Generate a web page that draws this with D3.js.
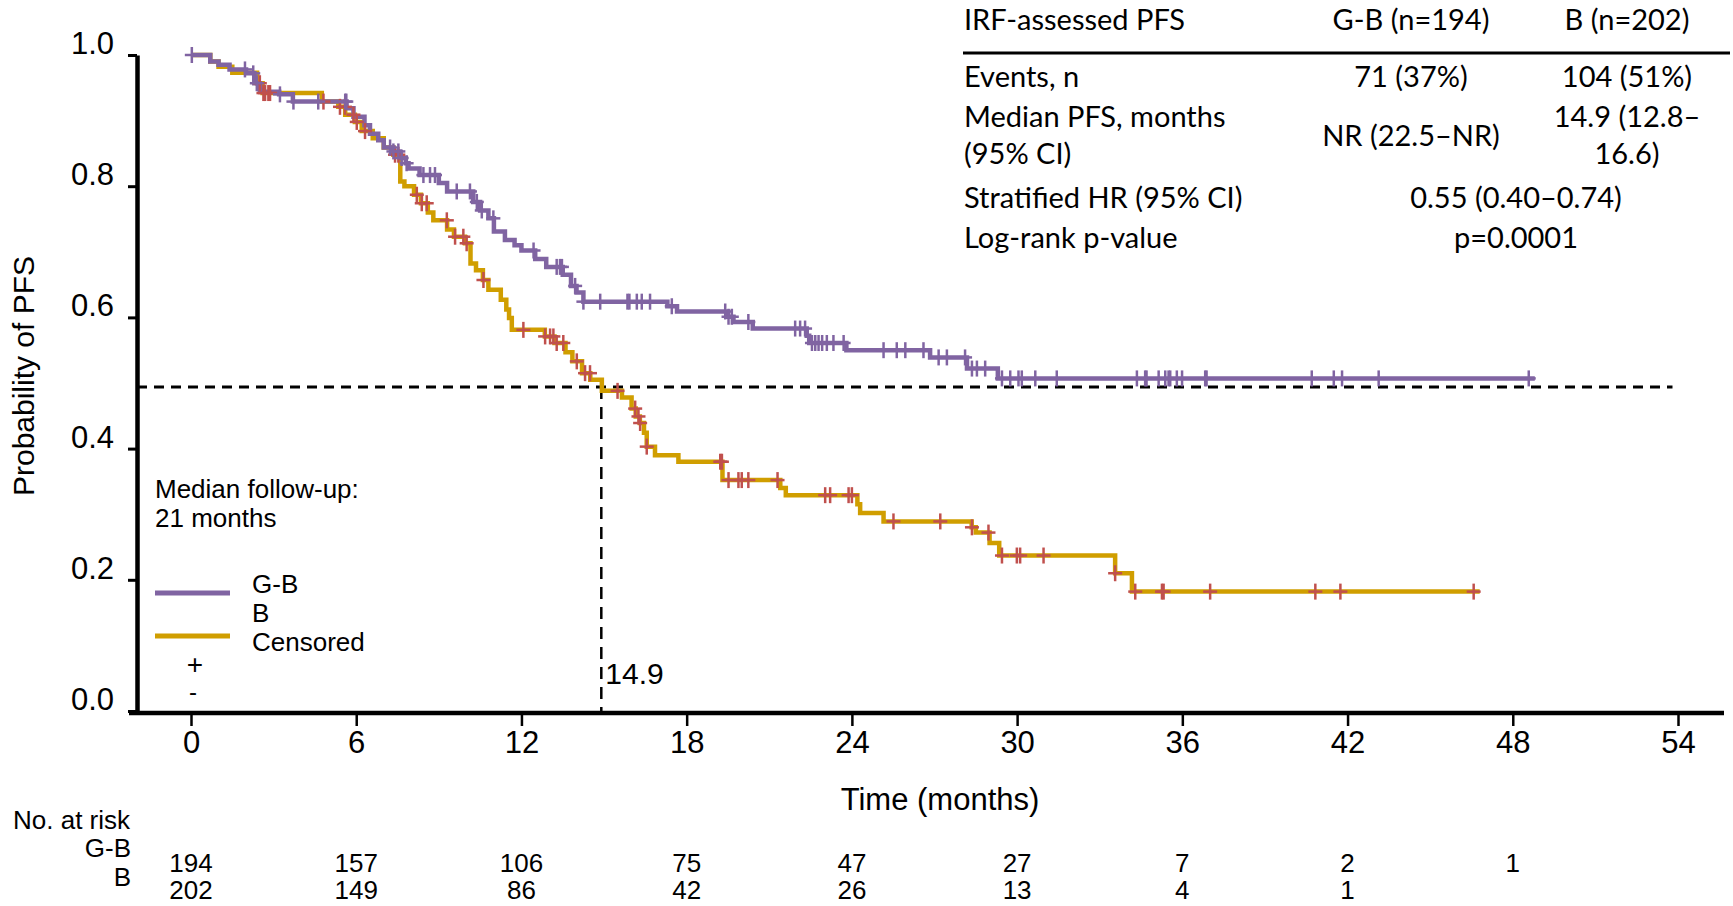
<!DOCTYPE html>
<html>
<head>
<meta charset="utf-8">
<title>IRF-assessed PFS Kaplan-Meier</title>
<script src="https://d3js.org/d3.v7.min.js"></script>
<style>
  body { margin: 0; background: #fff; }
  svg text { font-family: "Liberation Sans", Arial, sans-serif; fill: #000; }
  .tbl text { font-family: Lato, "Open Sans", sans-serif; }
</style>
</head>
<body>
<div id="chart"></div>
<script>

// ---- data ----
// G-B arm: step times (months) and survival after each step
const gbTimes = [0, 0.7, 1.0, 1.4, 2.0, 2.3, 2.5, 2.6, 3.2, 3.7, 5.65, 5.9, 6.3, 6.5, 6.8, 7.0, 7.35, 7.6, 7.8, 7.9,
  8.3, 9.0, 9.3, 10.25, 10.5, 10.8, 11.0, 11.4, 11.75, 12.0, 12.5, 12.9, 13.5, 13.8, 14.0, 14.25, 17.3, 17.65,
  19.5, 19.7, 20.4, 22.36, 22.45, 23.8, 26.84, 28.18, 29.3];
const gbSurv = [1.0, 0.990, 0.985, 0.978, 0.972, 0.957, 0.947, 0.944, 0.940, 0.929, 0.919, 0.906, 0.893, 0.880, 0.870, 0.859, 0.853, 0.843, 0.835, 0.827,
  0.817, 0.805, 0.792, 0.776, 0.763, 0.751, 0.731, 0.718, 0.710, 0.702, 0.689, 0.677, 0.665, 0.648, 0.638, 0.624, 0.617, 0.609,
  0.601, 0.593, 0.583, 0.572, 0.561, 0.550, 0.539, 0.522, 0.507];
const gbEnd = 48.8;
const gbCensored = [0.03, 1.96, 2.26, 2.39, 3.23, 3.72, 4.62, 5.6, 5.64, 7.23, 7.35, 7.53, 7.65, 7.83, 8.44, 8.68, 8.86, 9.65,
  10.13, 10.38, 10.56, 10.98, 12.44, 13.28, 13.4, 13.47, 13.95, 14.25, 14.86, 15.85, 15.92, 16.19, 16.37, 16.67, 17.46,
  19.4, 19.52, 19.64, 20.24, 21.94, 22.12, 22.3, 22.55, 22.67, 22.79, 22.92, 23.09, 23.33, 23.7, 25.15, 25.63, 25.94,
  26.6, 27.15, 27.45, 28.11, 28.36, 28.54, 28.84, 29.45, 29.75, 30.05, 30.17, 30.66, 31.44, 34.35, 34.65, 34.7,
  35.14, 35.38, 35.5, 35.56, 35.8, 35.99, 36.83, 36.88, 40.7, 41.5, 41.8, 43.13, 48.58];

// B arm
const bTimes = [0, 0.7, 1.0, 1.5, 2.4, 2.6, 4.75, 5.35, 5.6, 5.95, 6.2, 6.6, 7.0, 7.35, 7.6, 7.75, 8.1, 8.35, 8.6, 8.8,
  9.3, 9.55, 9.95, 10.15, 10.35, 10.6, 10.8, 11.25, 11.45, 11.55, 11.65, 12.85, 13.2, 13.6, 13.85, 14.2, 14.5, 14.92,
  15.65, 16.0, 16.15, 16.3, 16.45, 16.55, 16.85, 17.7, 19.3, 21.4, 21.6, 24.2, 24.3, 25.15, 28.35, 28.5, 29.0, 29.35,
  33.56, 34.17];
const bSurv = [1.0, 0.990, 0.982, 0.973, 0.957, 0.942, 0.929, 0.921, 0.909, 0.898, 0.884, 0.873, 0.859, 0.848, 0.807, 0.800, 0.787, 0.774, 0.760, 0.748,
  0.734, 0.723, 0.713, 0.682, 0.672, 0.657, 0.642, 0.627, 0.612, 0.599, 0.581, 0.571, 0.561, 0.547, 0.533, 0.515, 0.505, 0.488,
  0.478, 0.461, 0.449, 0.439, 0.424, 0.403, 0.390, 0.380, 0.352, 0.340, 0.329, 0.315, 0.302, 0.289, 0.280, 0.272, 0.256, 0.237,
  0.210, 0.182];
const bEnd = 46.8;
const bCensored = [2.5, 2.63, 2.69, 2.81, 2.87, 4.81, 5.41, 5.59, 5.9, 6.02, 6.32, 7.41, 7.53, 8.2, 8.38, 8.56, 9.29, 9.59,
  9.89, 10.01, 10.62, 12.07, 12.86, 13.04, 13.16, 13.28, 13.52, 14.01, 14.31, 14.49, 15.49, 16.13, 16.25, 16.31, 16.55,
  19.22, 19.28, 19.52, 19.88, 20.0, 20.24, 21.3, 23.03, 23.21, 23.88, 24.0, 25.51, 27.21, 28.36, 28.96, 29.45, 29.99,
  30.11, 30.96, 33.56, 34.29, 35.26, 35.32, 37.01, 40.83, 41.74, 46.58];

// median
const medianTime = 14.9;
const medianLevel = 0.494;

// axes
const xTicks = [0, 6, 12, 18, 24, 30, 36, 42, 48, 54];
const yTicks = [0, 0.2, 0.4, 0.6, 0.8, 1.0];

// number at risk
const riskTimes = [0, 6, 12, 18, 24, 30, 36, 42, 48];
const riskGB = [194, 157, 106, 75, 47, 27, 7, 2, 1];
const riskB = [202, 149, 86, 42, 26, 13, 4, 1];

// summary table
const tableHeader = ["IRF-assessed PFS", "G-B (n=194)", "B (n=202)"];
const tableEvents = ["Events, n", "71 (37%)", "104 (51%)"];
const tableMedian = [["Median PFS, months", "(95% CI)"], "NR (22.5\u2013NR)", ["14.9 (12.8\u2013", "16.6)"]];
const tableHR = ["Stratified HR (95% CI)", "0.55 (0.40\u20130.74)"];
const tableP = ["Log-rank p-value", "p=0.0001"];

// ---- drawing ----
const W = 1733, H = 906;
const colGB = "#8064a2", colB = "#d09e00", colCens = "#c0504d";

const svg = d3.select("#chart")
  .append("svg")
    .attr("width", W)
    .attr("height", H);

const x = d3.scaleLinear().domain([0, 54]).range([191, 1678]);
const y = d3.scaleLinear().domain([0, 1]).range([711, 55]);

// y axis
const yAxis = svg.append("g")
    .attr("transform", "translate(137,0)")
    .call(d3.axisLeft(y).tickValues(yTicks).tickFormat(d3.format(".1f")).tickSize(9).tickPadding(14).tickSizeOuter(0));
yAxis.select(".domain").attr("stroke-width", 4.5);
yAxis.selectAll(".tick line").attr("stroke-width", 3);
yAxis.selectAll(".tick text").attr("dy", "-0.05em").style("font-size", "31px");

// x axis
const xAxis = svg.append("g")
    .attr("transform", "translate(0,713)")
    .call(d3.axisBottom(x).tickValues(xTicks).tickSize(13).tickPadding(27).tickSizeOuter(0));
xAxis.select(".domain").remove();
xAxis.selectAll(".tick line").attr("stroke-width", 2.5);
xAxis.selectAll(".tick text").attr("dy", "0").style("font-size", "31px");
xAxis.append("line")
    .attr("x1", 129).attr("x2", 1724)
    .attr("stroke", "#000").attr("stroke-width", 4.5);

svg.append("text")
    .attr("x", 940).attr("y", 810)
    .attr("text-anchor", "middle")
    .style("font-size", "31px")
    .text("Time (months)");

svg.append("text")
    .attr("transform", "translate(34,376) rotate(-90)")
    .attr("text-anchor", "middle")
    .style("font-size", "30px")
    .text("Probability of PFS");

// median reference lines
svg.append("line")
    .attr("x1", 137).attr("x2", x(53.8))
    .attr("y1", y(medianLevel)).attr("y2", y(medianLevel))
    .attr("stroke", "#000").attr("stroke-width", 3).attr("stroke-dasharray", "10,7");
svg.append("line")
    .attr("x1", x(medianTime)).attr("x2", x(medianTime))
    .attr("y1", y(medianLevel)).attr("y2", y(0))
    .attr("stroke", "#000").attr("stroke-width", 2.5).attr("stroke-dasharray", "12,8");
svg.append("text")
    .attr("x", x(medianTime) + 4).attr("y", 684)
    .style("font-size", "30px")
    .text(medianTime.toFixed(1));

// KM step curves
function stepPoints(times, surv, end) {
  const pts = times.map((t, i) => [t, surv[i]]);
  pts.push([end, surv[surv.length - 1]]);
  return pts;
}
function survAt(times, surv, t) {
  let s = surv[0];
  times.forEach((ti, i) => { if (ti <= t) s = surv[i]; });
  return s;
}
const km = d3.line()
    .x(d => x(d[0]))
    .y(d => y(d[1]))
    .curve(d3.curveStepAfter);

svg.append("path")
    .datum(stepPoints(bTimes, bSurv, bEnd))
    .attr("d", km)
    .attr("fill", "none").attr("stroke", colB).attr("stroke-width", 4.5);

svg.append("path")
    .datum(stepPoints(gbTimes, gbSurv, gbEnd))
    .attr("d", km)
    .attr("fill", "none").attr("stroke", colGB).attr("stroke-width", 4.5);

// censor marks
function drawCensors(cls, times, surv, cens, col) {
  const g = svg.append("g").attr("class", cls)
      .attr("stroke", col).attr("stroke-width", 2.5);
  const m = g.selectAll("g")
    .data(cens)
    .enter()
    .append("g")
      .attr("transform", d => `translate(${x(d)},${y(survAt(times, surv, d))})`);
  m.append("line").attr("x1", -7).attr("x2", 7);
  m.append("line").attr("y1", -8).attr("y2", 8);
}
drawCensors("cens_b", bTimes, bSurv, bCensored, colCens);
drawCensors("cens_gb", gbTimes, gbSurv, gbCensored, colGB);

// legend
svg.append("text").attr("x", 155).attr("y", 498).style("font-size", "26px").text("Median follow-up:");
svg.append("text").attr("x", 155).attr("y", 527).style("font-size", "26px").text("21 months");

svg.append("line").attr("x1", 155).attr("x2", 230).attr("y1", 593).attr("y2", 593)
    .attr("stroke", colGB).attr("stroke-width", 5);
svg.append("line").attr("x1", 155).attr("x2", 230).attr("y1", 636).attr("y2", 636)
    .attr("stroke", colB).attr("stroke-width", 5);
svg.append("text").attr("x", 252).attr("y", 593).style("font-size", "26px").text("G-B");
svg.append("text").attr("x", 252).attr("y", 622).style("font-size", "26px").text("B");
svg.append("text").attr("x", 252).attr("y", 651).style("font-size", "26px").text("Censored");
svg.append("text").attr("x", 195).attr("y", 674).attr("text-anchor", "middle").style("font-size", "28px").text("+");
svg.append("text").attr("x", 193).attr("y", 700).attr("text-anchor", "middle").style("font-size", "24px").text("-");

// number at risk
svg.append("text").attr("x", 13).attr("y", 829).style("font-size", "26px").text("No. at risk");
svg.append("text").attr("x", 131).attr("y", 857).attr("text-anchor", "end").style("font-size", "26px").text("G-B");
svg.append("text").attr("x", 131).attr("y", 886).attr("text-anchor", "end").style("font-size", "26px").text("B");

svg.selectAll(".risk_gb")
  .data(riskGB)
  .enter()
  .append("text")
    .attr("class", "risk_gb")
    .attr("x", (d, i) => x(riskTimes[i]))
    .attr("y", 872)
    .attr("text-anchor", "middle")
    .style("font-size", "26px")
    .text(d => d);

svg.selectAll(".risk_b")
  .data(riskB)
  .enter()
  .append("text")
    .attr("class", "risk_b")
    .attr("x", (d, i) => x(riskTimes[i]))
    .attr("y", 899)
    .attr("text-anchor", "middle")
    .style("font-size", "26px")
    .text(d => d);

// summary table
const tbl = svg.append("g").attr("class", "tbl").style("font-size", "29px");
const c0 = 964, c1 = 1411, c2 = 1627, c12 = 1516;
function cell(txt, cx, cy, anchor) {
  tbl.append("text").attr("x", cx).attr("y", cy).attr("text-anchor", anchor).text(txt);
}
cell(tableHeader[0], c0, 30, "start");
cell(tableHeader[1], c1, 30, "middle");
cell(tableHeader[2], c2, 30, "middle");
tbl.append("line").attr("x1", 963).attr("x2", 1730).attr("y1", 53).attr("y2", 53)
    .attr("stroke", "#000").attr("stroke-width", 3);
cell(tableEvents[0], c0, 87, "start");
cell(tableEvents[1], c1, 87, "middle");
cell(tableEvents[2], c2, 87, "middle");
cell(tableMedian[0][0], c0, 127, "start");
cell(tableMedian[0][1], c0, 164, "start");
cell(tableMedian[1], c1, 146, "middle");
cell(tableMedian[2][0], c2, 127, "middle");
cell(tableMedian[2][1], c2, 164, "middle");
cell(tableHR[0], c0, 208, "start");
cell(tableHR[1], c12, 208, "middle");
cell(tableP[0], c0, 248, "start");
cell(tableP[1], c12, 248, "middle");

</script>
</body>
</html>
